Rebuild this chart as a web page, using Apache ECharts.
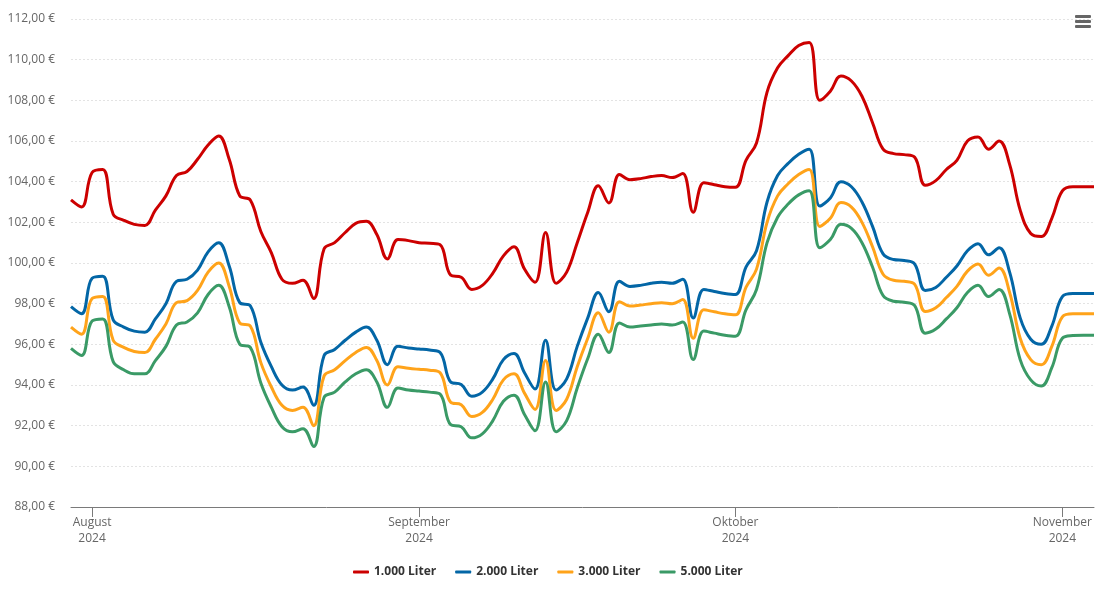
<!DOCTYPE html>
<html>
<head>
<meta charset="utf-8">
<script src="https://cdn.jsdelivr.net/npm/echarts@6/dist/echarts.min.js"></script>
<style>
  html, body { margin: 0; padding: 0; background: #fff; }
  #chart { width: 1105px; height: 602px; }
</style>
</head>
<body>
<div id="chart"></div>
<script>
// Tage (30.07.2024 - 04.11.2024)
var days = [
  '2024-07-30', '2024-07-31',
  '2024-08-01', '2024-08-02', '2024-08-03', '2024-08-04', '2024-08-05', '2024-08-06', '2024-08-07', '2024-08-08',
  '2024-08-09', '2024-08-10', '2024-08-11', '2024-08-12', '2024-08-13', '2024-08-14', '2024-08-15', '2024-08-16',
  '2024-08-17', '2024-08-18', '2024-08-19', '2024-08-20', '2024-08-21', '2024-08-22', '2024-08-23', '2024-08-24',
  '2024-08-25', '2024-08-26', '2024-08-27', '2024-08-28', '2024-08-29', '2024-08-30', '2024-08-31',
  '2024-09-01', '2024-09-02', '2024-09-03', '2024-09-04', '2024-09-05', '2024-09-06', '2024-09-07', '2024-09-08',
  '2024-09-09', '2024-09-10', '2024-09-11', '2024-09-12', '2024-09-13', '2024-09-14', '2024-09-15', '2024-09-16',
  '2024-09-17', '2024-09-18', '2024-09-19', '2024-09-20', '2024-09-21', '2024-09-22', '2024-09-23', '2024-09-24',
  '2024-09-25', '2024-09-26', '2024-09-27', '2024-09-28', '2024-09-29', '2024-09-30',
  '2024-10-01', '2024-10-02', '2024-10-03', '2024-10-04', '2024-10-05', '2024-10-06', '2024-10-07', '2024-10-08',
  '2024-10-09', '2024-10-10', '2024-10-11', '2024-10-12', '2024-10-13', '2024-10-14', '2024-10-15', '2024-10-16',
  '2024-10-17', '2024-10-18', '2024-10-19', '2024-10-20', '2024-10-21', '2024-10-22', '2024-10-23', '2024-10-24',
  '2024-10-25', '2024-10-26', '2024-10-27', '2024-10-28', '2024-10-29', '2024-10-30', '2024-10-31',
  '2024-11-01', '2024-11-02', '2024-11-03', '2024-11-04'
]

var monthNames = ['Januar', 'Februar', 'März', 'April', 'Mai', 'Juni', 'Juli',
  'August', 'September', 'Oktober', 'November', 'Dezember']

var seriesNames = ['1.000 Liter', '2.000 Liter', '3.000 Liter', '5.000 Liter']
var seriesColors = ['#cc0000', '#0366a6', '#ffa31a', '#3a9a66']

// Preis je 100 Liter in Euro
var liter1000 = [
  103.1, 102.75, 104.45, 104.6, 102.4, 102.1, 101.9, 101.85, 102.6, 103.3,
  104.3, 104.5, 105.1, 105.8, 106.25, 105.1, 103.3, 103.1, 101.55, 100.5,
  99.2, 99.0, 99.15, 98.25, 100.7, 101.0, 101.5, 101.95, 102.05, 101.4,
  100.2, 101.15, 101.1, 101.0, 100.97, 100.9, 99.4, 99.3, 98.7, 98.9,
  99.5, 100.35, 100.8, 99.7, 99.05, 101.5, 99.0, 99.55, 101.0, 102.5,
  103.8, 102.95, 104.35, 104.1, 104.15, 104.25, 104.3, 104.2, 104.4, 102.5,
  103.95, 103.85, 103.75, 103.72, 105.05, 105.9, 108.4, 109.6, 110.2, 110.7,
  110.85, 108.0, 108.45, 109.2, 108.95, 108.2, 106.9, 105.6, 105.38, 105.33,
  105.2, 103.82, 104.05, 104.6, 105.05, 106.0, 106.2, 105.6, 106.0, 104.85,
  102.6, 101.45, 101.3, 102.2, 103.55, 103.75, 103.75, 103.75
]
var liter2000 = [
  97.85, 97.5, 99.25, 99.35, 97.2, 96.85, 96.65, 96.6, 97.25, 98.0,
  99.1, 99.2, 99.65, 100.55, 101.0, 99.85, 98.05, 97.9, 96.1, 94.9,
  94.0, 93.75, 93.9, 93.0, 95.45, 95.75, 96.2, 96.6, 96.85, 96.2,
  95.0, 95.9, 95.82, 95.77, 95.72, 95.6, 94.15, 94.03, 93.45, 93.65,
  94.3, 95.25, 95.55, 94.6, 93.8, 96.2, 93.75, 94.3, 95.9, 97.3,
  98.55, 97.6, 99.1, 98.85, 98.9, 99.0, 99.05, 99.0, 99.2, 97.3,
  98.7, 98.6, 98.5, 98.45, 99.8, 100.6, 103.0, 104.3, 104.9, 105.35,
  105.6, 102.8, 103.2, 104.0, 103.75, 103.0, 101.8, 100.45, 100.17, 100.12,
  99.95, 98.65, 98.8, 99.3, 99.85, 100.6, 100.95, 100.4, 100.75, 99.55,
  97.3, 96.25, 96.0, 96.9, 98.35, 98.5, 98.5, 98.5
]
var liter3000 = [
  96.85, 96.5, 98.25, 98.35, 96.2, 95.85, 95.65, 95.6, 96.25, 97.0,
  98.05, 98.15, 98.65, 99.55, 100.0, 98.85, 97.05, 96.9, 95.1, 93.9,
  93.0, 92.75, 92.9, 92.0, 94.45, 94.75, 95.2, 95.6, 95.85, 95.2,
  94.0, 94.9, 94.82, 94.77, 94.73, 94.6, 93.15, 93.03, 92.45, 92.65,
  93.3, 94.25, 94.55, 93.6, 92.8, 95.2, 92.75, 93.3, 94.9, 96.3,
  97.55, 96.6, 98.1, 97.88, 97.93, 98.0, 98.05, 98.0, 98.2, 96.3,
  97.7, 97.6, 97.5, 97.45, 98.8, 99.7, 102.0, 103.3, 103.9, 104.35,
  104.6, 101.8, 102.2, 102.97, 102.75, 102.0, 100.8, 99.45, 99.15, 99.1,
  98.95, 97.62, 97.8, 98.3, 98.85, 99.6, 99.95, 99.4, 99.75, 98.55,
  96.3, 95.25, 95.0, 95.9, 97.35, 97.5, 97.5, 97.5
]
var liter5000 = [
  95.8, 95.45, 97.15, 97.25, 95.15, 94.75, 94.55, 94.55, 95.2, 95.9,
  96.95, 97.1, 97.55, 98.45, 98.9, 97.85, 96.0, 95.85, 94.1, 92.9,
  91.95, 91.7, 91.85, 90.97, 93.4, 93.65, 94.15, 94.55, 94.75, 94.15,
  92.9, 93.85, 93.75, 93.7, 93.65, 93.55, 92.05, 91.95, 91.4, 91.6,
  92.25, 93.2, 93.5, 92.55, 91.75, 94.15, 91.7, 92.25, 93.85, 95.3,
  96.5, 95.6, 97.05, 96.85, 96.9, 96.95, 97.0, 96.95, 97.1, 95.25,
  96.65, 96.55, 96.45, 96.4, 97.7, 98.7, 101.0, 102.25, 102.9, 103.35,
  103.55, 100.75, 101.15, 101.9, 101.7, 101.0, 99.8, 98.4, 98.12, 98.07,
  97.9, 96.55, 96.75, 97.25, 97.8, 98.55, 98.9, 98.35, 98.7, 97.5,
  95.25, 94.25, 93.95, 94.85, 96.3, 96.43, 96.45, 96.45
]

var yTicks = { min: 88, max: 112, step: 2 }

function isMonthStart(index, value) {
  return value.slice(8) === '01'
}

function monthLabel(value) {
  var m = parseInt(value.slice(5, 7), 10) - 1
  return monthNames[m] + '\n' + value.slice(0, 4)
}

function euro(v) {
  return v.toFixed(2).replace('.', ',') + ' €'
}

var chart = echarts.init(document.getElementById('chart'), null, { renderer: 'canvas' })

var allData = [liter1000, liter2000, liter3000, liter5000]

chart.setOption({
  animation: false,
  textStyle: {
    fontFamily: '"Open Sans", "Noto Sans", sans-serif'
  },
  grid: {
    left: 71,
    right: 11,
    top: 19,
    bottom: 95
  },
  xAxis: {
    type: 'category',
    data: days,
    boundaryGap: false,
    axisLine: {
      lineStyle: { color: '#7a7a7a', width: 1 }
    },
    axisTick: {
      interval: isMonthStart,
      length: 10,
      lineStyle: { color: '#7a7a7a' }
    },
    axisLabel: {
      interval: isMonthStart,
      formatter: monthLabel,
      color: '#666',
      fontSize: 12,
      lineHeight: 16,
      margin: 8
    },
    splitLine: { show: false }
  },
  yAxis: {
    type: 'value',
    min: yTicks.min,
    max: yTicks.max,
    interval: yTicks.step,
    axisLine: { show: false },
    axisTick: { show: false },
    axisLabel: {
      formatter: euro,
      color: '#666',
      fontSize: 12,
      margin: 16
    },
    splitLine: {
      lineStyle: { color: '#e3e3e3', type: [2, 2], width: 1 }
    }
  },
  legend: {
    bottom: 19,
    left: 348,
    itemGap: 19,
    itemWidth: 16,
    itemHeight: 3,
    icon: 'roundRect',
    textStyle: {
      color: '#333',
      fontSize: 12,
      fontWeight: 'bold'
    },
    data: seriesNames
  },
  graphic: [
    { type: 'rect', right: 14, top: 15, shape: { width: 16, height: 3, r: 1 }, style: { fill: '#666' } },
    { type: 'rect', right: 14, top: 20, shape: { width: 16, height: 3, r: 1 }, style: { fill: '#666' } },
    { type: 'rect', right: 14, top: 25, shape: { width: 16, height: 3, r: 1 }, style: { fill: '#666' } }
  ],
  series: seriesNames.map(function (name, k) {
    return {
      name: name,
      type: 'line',
      data: allData[k],
      smooth: 0.4,
      showSymbol: false,
      symbol: 'none',
      color: seriesColors[k],
      lineStyle: { width: 3, color: seriesColors[k] }
    }
  })
})
</script>
</body>
</html>
